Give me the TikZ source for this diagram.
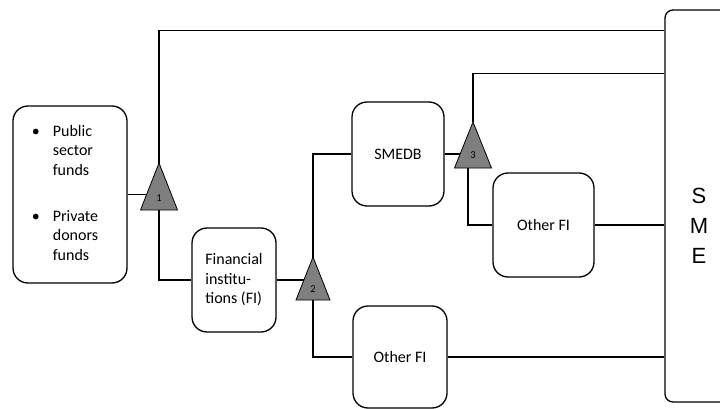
\documentclass[tikz,border=0pt]{standalone}
\usepackage{fontspec}
\setmainfont{Carlito}
\newfontfamily\smefont{Liberation Sans}
\usepackage{xcolor}
\definecolor{trigray}{RGB}{127,127,127}

\begin{document}
\begin{tikzpicture}[
  x=1pt, y=-1pt,
  box/.style={draw, rounded corners=15pt, line width=1.3pt, fill=white,
              font=\fontsize{16}{19.5}\selectfont, align=left, inner sep=0pt},
  conn/.style={line width=1.1pt},
  tri/.style={draw=black, fill=trigray, line width=0.8pt},
  num/.style={font=\fontsize{10.5}{12}\selectfont, inner sep=0pt},
]
  \useasboundingbox (0,0) rectangle (720,409);

  \node[box, minimum width=114pt, minimum height=177pt] (src) at (70,194.5)
    {\begin{tabular}{@{}l@{\hspace{13pt}}l@{\hspace{10pt}}}
       \textbullet & Public\\ & sector\\ & funds\\[26.5pt]
       \textbullet & Private\\ & donors\\ & funds
     \end{tabular}};
  \node[box, minimum width=84pt, minimum height=104pt] (fi) at (234,280)
    {Financial\\institu-\\tions (FI)};
  \node[box, minimum width=92pt, minimum height=104pt] (smedb) at (398,154) {SMEDB};
  \node[box, minimum width=101pt, minimum height=104pt] (otherfi1) at (543.5,225) {Other FI};
  \node[box, minimum width=94pt, minimum height=102pt] (otherfi2) at (400,357) {Other FI};
  \node[box, rounded corners=8pt, minimum width=68pt, minimum height=392pt] (sme) at (699,206) {};
  \node[font=\smefont\fontsize{22}{30}\selectfont, align=center] (smetxt) at (699,226) {S\\M\\E};

  % apex of each triangle
  \coordinate (tri1) at (159,163);
  \coordinate (tri2) at (313,257);
  \coordinate (tri3) at (473,122);

  \draw[conn] (src.east) -- (src.east -| tri1);
  \draw[conn] (tri1) |- ([yshift=-21pt]sme.north west);
  \draw[conn] (tri1) |- (fi.west);
  \draw[conn] (fi.east) -- (fi.east -| tri2);
  \draw[conn] (tri2) |- (smedb.west);
  \draw[conn] (tri2) |- (otherfi2.west);
  \draw[conn] (smedb.east) -- (smedb.east -| tri3);
  \draw[conn] (tri3) |- ([yshift=-64pt]sme.north west);
  \draw[conn] ([shift={(-5,30)}]tri3) |- (otherfi1.west);
  \draw[conn] (otherfi1.east) -- (otherfi1.east -| sme.west);
  \draw[conn] (otherfi2.east) -- (otherfi2.east -| sme.west);

  \filldraw[tri] (tri1) -- ++(18.5,47) -- ++(-37,0) -- cycle;
  \filldraw[tri] (tri2) -- ++(17,43) -- ++(-34,0) -- cycle;
  \filldraw[tri] (tri3) -- ++(18.5,46) -- ++(-37,0) -- cycle;
  \node[num] (n1) at ([yshift=-35pt]tri1) {1};
  \node[num] (n2) at ([yshift=-32pt]tri2) {2};
  \node[num] (n3) at ([yshift=-33pt]tri3) {3};
\end{tikzpicture}
\end{document}
